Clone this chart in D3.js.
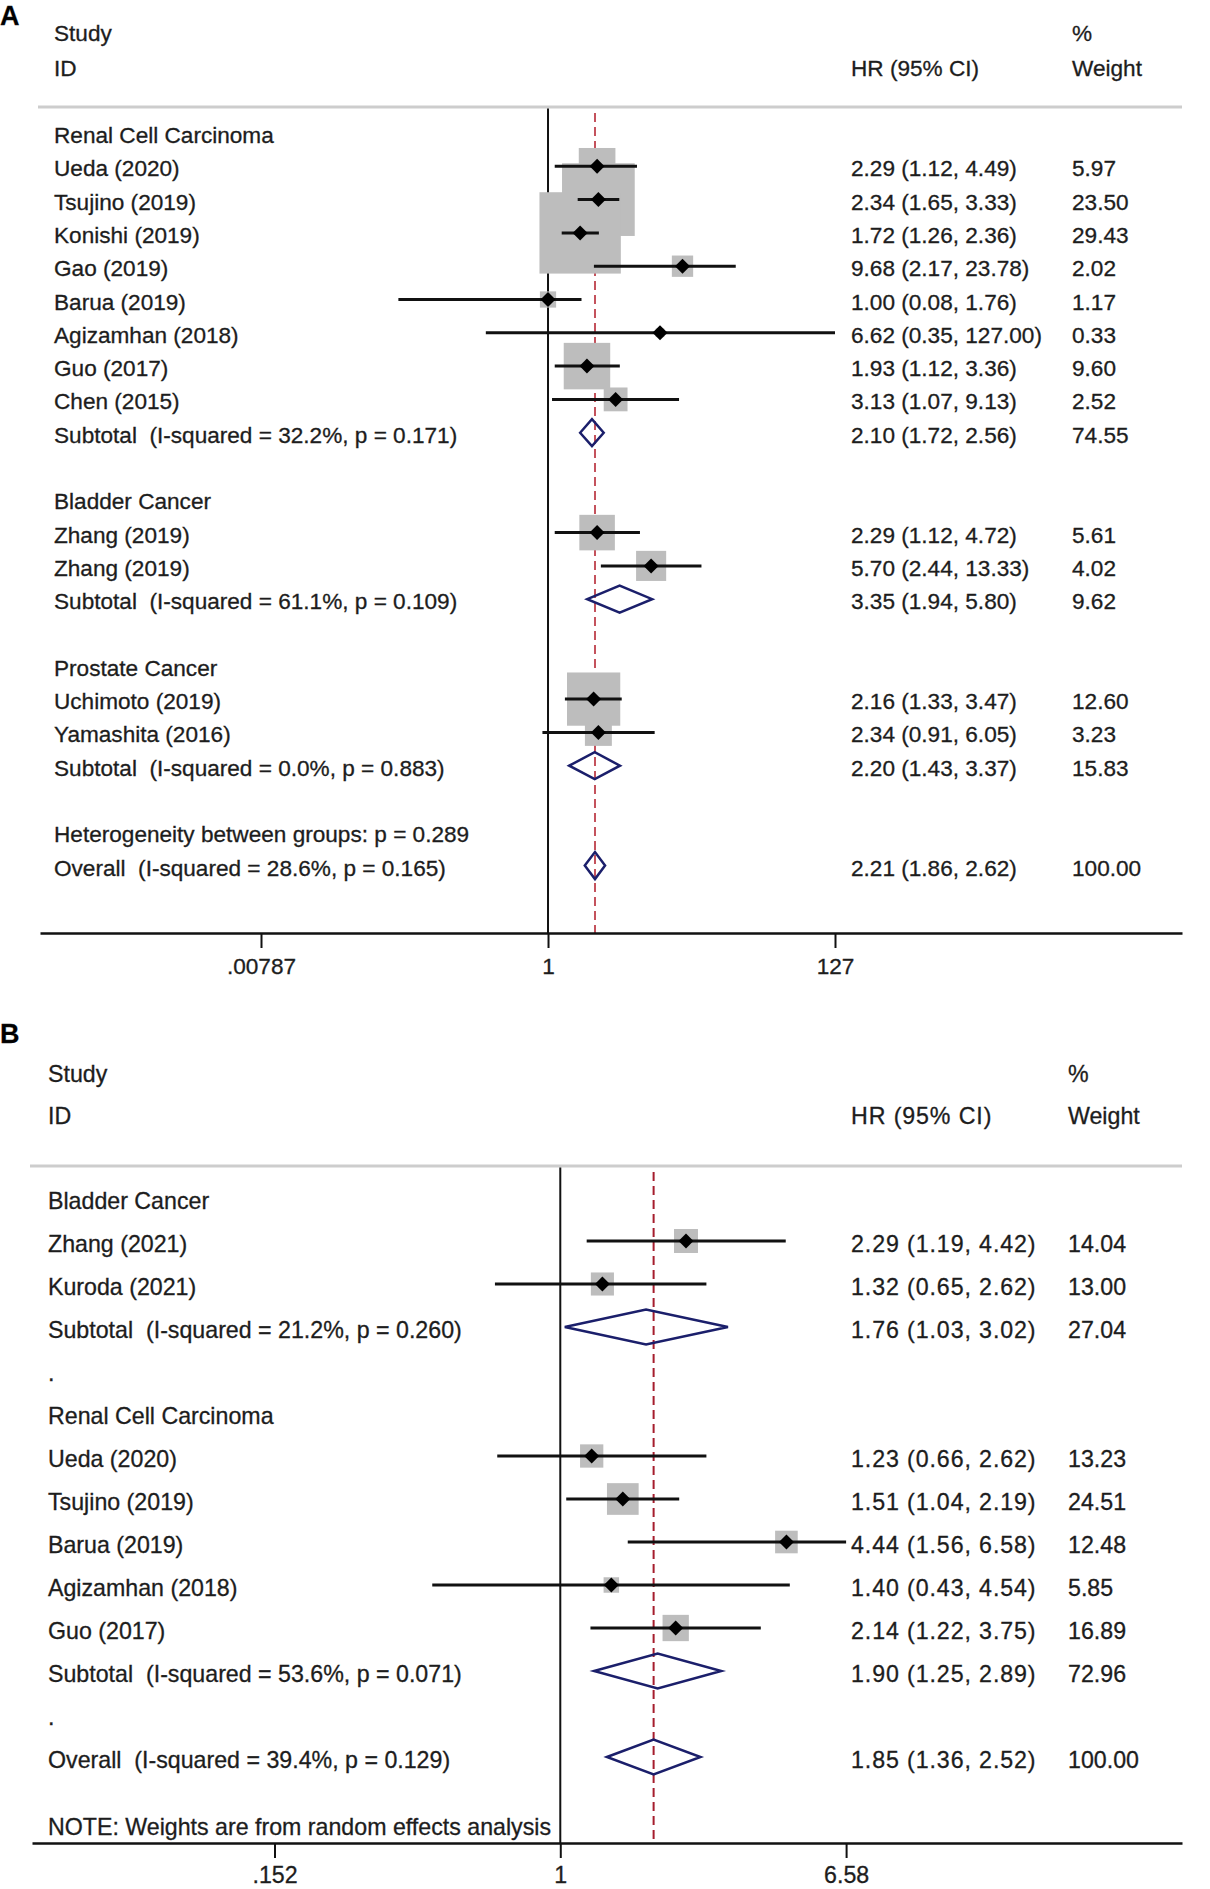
<!DOCTYPE html>
<html>
<head>
<meta charset="utf-8">
<script src="https://cdn.jsdelivr.net/npm/d3@7"></script>
<style>
  body { margin: 0; background: #fff; }
  svg text { font-family: "Liberation Sans", Arial, Helvetica, sans-serif; fill: #1d1d1d; white-space: pre; stroke: #1d1d1d; stroke-width: 0.3px; }
</style>
</head>
<body>
<svg id="chart" width="1210" height="1889"></svg>
<script>
// ---- panel A data ----
const aLabels = [
  "Renal Cell Carcinoma", "Ueda (2020)", "Tsujino (2019)", "Konishi (2019)", "Gao (2019)",
  "Barua (2019)", "Agizamhan (2018)", "Guo (2017)", "Chen (2015)",
  "Subtotal  (I-squared = 32.2%, p = 0.171)", "",
  "Bladder Cancer", "Zhang (2019)", "Zhang (2019)",
  "Subtotal  (I-squared = 61.1%, p = 0.109)", "",
  "Prostate Cancer", "Uchimoto (2019)", "Yamashita (2016)",
  "Subtotal  (I-squared = 0.0%, p = 0.883)", "",
  "Heterogeneity between groups: p = 0.289",
  "Overall  (I-squared = 28.6%, p = 0.165)"
]
const aKinds = ["group", "study", "study", "study", "study", "study", "study", "study", "study", "sub", "blank",
  "group", "study", "study", "sub", "blank",
  "group", "study", "study", "sub", "blank",
  "text", "sub"]
const aHR     = [null, 2.29, 2.34, 1.72, 9.68, 1.00, 6.62, 1.93, 3.13, 2.10, null, null, 2.29, 5.70, 3.35, null, null, 2.16, 2.34, 2.20, null, null, 2.21]
const aLow    = [null, 1.12, 1.65, 1.26, 2.17, 0.08, 0.35, 1.12, 1.07, 1.72, null, null, 1.12, 2.44, 1.94, null, null, 1.33, 0.91, 1.43, null, null, 1.86]
const aHigh   = [null, 4.49, 3.33, 2.36, 23.78, 1.76, 127.00, 3.36, 9.13, 2.56, null, null, 4.72, 13.33, 5.80, null, null, 3.47, 6.05, 3.37, null, null, 2.62]
const aWeight = [null, 5.97, 23.50, 29.43, 2.02, 1.17, 0.33, 9.60, 2.52, 74.55, null, null, 5.61, 4.02, 9.62, null, null, 12.60, 3.23, 15.83, null, null, 100.00]
const aPooled = 2.21
const aTicks = [0.00787, 1, 127]
const aTickLabels = [".00787", "1", "127"]

// ---- panel B data ----
const bLabels = [
  "Bladder Cancer", "Zhang (2021)", "Kuroda (2021)",
  "Subtotal  (I-squared = 21.2%, p = 0.260)", ".",
  "Renal Cell Carcinoma", "Ueda (2020)", "Tsujino (2019)", "Barua (2019)", "Agizamhan (2018)", "Guo (2017)",
  "Subtotal  (I-squared = 53.6%, p = 0.071)", ".",
  "Overall  (I-squared = 39.4%, p = 0.129)"
]
const bKinds = ["group", "study", "study", "sub", "text", "group", "study", "study", "study", "study", "study", "sub", "text", "sub"]
const bHR     = [null, 2.29, 1.32, 1.76, null, null, 1.23, 1.51, 4.44, 1.40, 2.14, 1.90, null, 1.85]
const bLow    = [null, 1.19, 0.65, 1.03, null, null, 0.66, 1.04, 1.56, 0.43, 1.22, 1.25, null, 1.36]
const bHigh   = [null, 4.42, 2.62, 3.02, null, null, 2.62, 2.19, 6.58, 4.54, 3.75, 2.89, null, 2.52]
const bWeight = [null, 14.04, 13.00, 27.04, null, null, 13.23, 24.51, 12.48, 5.85, 16.89, 72.96, null, 100.00]
const bPooled = 1.85
const bTicks = [0.152, 1, 6.58]
const bTickLabels = [".152", "1", "6.58"]
const bNote = "NOTE: Weights are from random effects analysis"

const svg = d3.select("#chart")
const fmt = d3.format(".2f")

const drawPanel = p => {
  const g = svg.append("g")
  const rows = p.labels.map((label, i) => ({
    label, i, kind: p.kinds[i], hr: p.hr[i], lo: p.low[i], hi: p.high[i], w: p.weight[i]
  }))
  const studies = rows.filter(r => r.kind == "study")
  const pooled = rows.filter(r => r.kind == "sub")

  const x = d3.scaleLog().domain(d3.extent(p.ticks)).range(p.tickRange)
  const y = d3.scaleLinear().domain([0, 1]).range([p.firstRow, p.firstRow + p.step])
  const side = d3.scaleSqrt().domain([0, 1]).range([0, p.boxK])
  const xAxisScale = x.copy()
    .domain([x.invert(p.axisLeft), x.invert(p.axisRight)])
    .range([p.axisLeft, p.axisRight])

  // panel letter + headings
  g.append("text").attr("x", 0).attr("y", p.letterY)
    .style("font-size", "27px").style("font-weight", "bold").style("fill", "#000").text(p.letter)
  const heads = [
    [p.textX, p.head1, "Study", 0], [p.textX, p.head2, "ID", 0],
    [p.hrX, p.head2, "HR (95% CI)", p.hrSpacing], [p.wX, p.head1, "%", 0], [p.wX, p.head2, "Weight", 0]
  ]
  g.selectAll(".head").data(heads).enter().append("text")
    .attr("x", d => d[0]).attr("y", d => d[1])
    .style("font-size", `${p.font}px`).style("letter-spacing", d => `${d[3]}px`).text(d => d[2])

  g.append("line")
    .attr("x1", p.headLeft).attr("x2", p.axisRight)
    .attr("y1", p.headLineY).attr("y2", p.headLineY)
    .attr("stroke", "#cdcdcd").attr("stroke-width", 3)

  // null line and pooled estimate line
  g.append("line")
    .attr("x1", x(1)).attr("x2", x(1))
    .attr("y1", p.headLineY + 1.5).attr("y2", p.axisY)
    .attr("stroke", "#111").attr("stroke-width", 2)
  g.append("line")
    .attr("x1", x(p.pooled)).attr("x2", x(p.pooled))
    .attr("y1", p.headLineY + 6).attr("y2", p.axisY)
    .attr("stroke", p.red).attr("stroke-width", 2).attr("stroke-dasharray", "9,5")

  // weight boxes
  g.selectAll(".box").data(studies).enter().append("rect")
    .attr("x", d => x(d.hr) - side(d.w) / 2)
    .attr("y", d => y(d.i) - side(d.w) / 2)
    .attr("width", d => side(d.w)).attr("height", d => side(d.w))
    .attr("fill", "#bdbdbd")

  // confidence intervals
  g.selectAll(".ci").data(studies).enter().append("line")
    .attr("x1", d => x(d.lo)).attr("x2", d => x(d.hi))
    .attr("y1", d => y(d.i)).attr("y2", d => y(d.i))
    .attr("stroke", "#111").attr("stroke-width", 3)

  // point estimates
  g.selectAll(".pt").data(studies).enter().append("path")
    .attr("d", d3.symbol(d3.symbolSquare, 112))
    .attr("transform", d => `translate(${x(d.hr)},${y(d.i)}) rotate(45)`)
    .attr("fill", "#000")

  // pooled diamonds
  const h = p.step * 0.405
  g.selectAll(".dia").data(pooled).enter().append("path")
    .attr("d", d => `M${x(d.lo)},${y(d.i)}L${x(d.hr)},${y(d.i) - h}L${x(d.hi)},${y(d.i)}L${x(d.hr)},${y(d.i) + h}Z`)
    .attr("fill", "none").attr("stroke", "#1b1f6b").attr("stroke-width", 2.5)

  // row texts
  g.selectAll(".lab").data(rows.filter(r => r.label)).enter().append("text")
    .attr("x", p.textX).attr("y", d => y(d.i) + p.baseOff)
    .style("font-size", `${p.font}px`).text(d => d.label)
  const valued = rows.filter(r => r.hr != null)
  g.selectAll(".hr").data(valued).enter().append("text")
    .attr("x", p.hrX).attr("y", d => y(d.i) + p.baseOff)
    .style("font-size", `${p.font}px`).style("letter-spacing", `${p.hrSpacing}px`)
    .text(d => `${fmt(d.hr)} (${fmt(d.lo)}, ${fmt(d.hi)})`)
  g.selectAll(".wt").data(valued).enter().append("text")
    .attr("x", p.wX).attr("y", d => y(d.i) + p.baseOff)
    .style("font-size", `${p.font}px`).text(d => fmt(d.w))

  if (p.note) {
    g.append("text").attr("x", p.textX).attr("y", y(p.noteRow) + p.baseOff)
      .style("font-size", `${p.font}px`).text(p.note)
  }

  // axis
  const axis = g.append("g")
    .attr("transform", `translate(0,${p.axisY})`)
    .call(d3.axisBottom(xAxisScale)
      .tickValues(p.ticks)
      .tickFormat((d, i) => p.tickLabels[i])
      .tickSize(15).tickSizeOuter(0).tickPadding(p.tickPad))
  axis.select(".domain").attr("stroke", "#111").attr("stroke-width", 2.5)
  axis.selectAll(".tick line").attr("stroke", "#111").attr("stroke-width", 2)
  axis.selectAll(".tick text").style("font-size", `${p.font}px`)
    .style("font-family", "'Liberation Sans', Arial, sans-serif").attr("fill", "#1d1d1d")
}

drawPanel({
  letter: "A", labels: aLabels, kinds: aKinds, hr: aHR, low: aLow, high: aHigh, weight: aWeight,
  pooled: aPooled, ticks: aTicks, tickLabels: aTickLabels,
  letterY: 25, head1: 41, head2: 76, headLineY: 107, headLeft: 38,
  textX: 54, hrX: 851, wX: 1072, font: 22.6, baseOff: 10, hrSpacing: 0,
  firstRow: 133, step: 33.3, tickRange: [261, 835], axisLeft: 40, axisRight: 1182, axisY: 933,
  tickPad: 10, boxK: 15, red: "#c4525c"
})

drawPanel({
  letter: "B", labels: bLabels, kinds: bKinds, hr: bHR, low: bLow, high: bHigh, weight: bWeight,
  pooled: bPooled, ticks: bTicks, tickLabels: bTickLabels, note: bNote, noteRow: 14.55,
  letterY: 1043, head1: 1082, head2: 1124, headLineY: 1166, headLeft: 30,
  textX: 48, hrX: 851, wX: 1068, font: 23.2, baseOff: 11, hrSpacing: 0.9,
  firstRow: 1198, step: 43, tickRange: [274.5, 846.1], axisLeft: 32, axisRight: 1182, axisY: 1843,
  tickPad: 9, boxK: 6.4, red: "#a51d2d"
})
</script>
</body>
</html>
